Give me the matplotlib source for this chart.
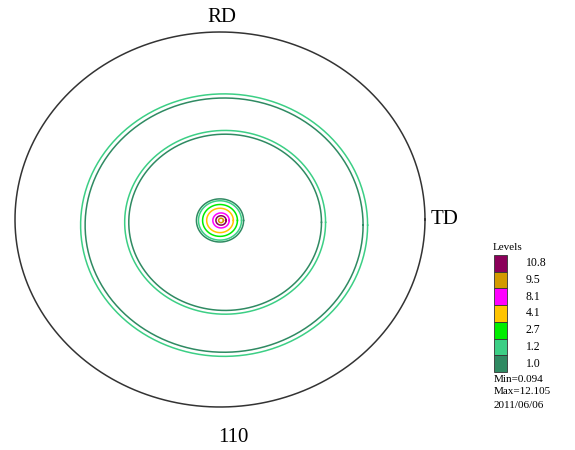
import numpy as np
import matplotlib
matplotlib.use("Agg")
import matplotlib.pyplot as plt

# contour levels and their colours (legend)
levels = [10.8, 9.5, 8.1, 4.1, 2.7, 1.2, 1.0]
level_colors = ["#8b005a", "#d39a00", "#ff00ff", "#ffc400", "#00ee00", "#3ccf85", "#2f8a62"]

# rings: radius (unit = pole-figure radius), centre, level
ring_r = [0.700, 0.678, 0.490, 0.470, 0.115, 0.105, 0.085, 0.065, 0.040, 0.025, 0.012]
ring_cx = [0.020, 0.020, 0.025, 0.025, 0.000, 0.000, 0.000, 0.000, 0.005, 0.005, 0.005]
ring_cy = [-0.030, -0.030, -0.015, -0.015, -0.005, -0.005, -0.005, -0.005, -0.005, -0.005, -0.005]
ring_level = [1.2, 1.0, 1.2, 1.0, 1.0, 1.2, 2.7, 4.1, 8.1, 10.8, 9.5]

min_val, max_val = 0.094, 12.105
date_str = "2011/06/06"

plt.rcParams['font.family'] = ['Liberation Serif', 'DejaVu Serif']

fig = plt.figure(figsize=(5.75, 4.5), dpi=100)
ax = fig.add_axes([15 / 575, 43 / 450, 410 / 575, 375 / 450])
ax.set_xlim(-1, 1)
ax.set_ylim(-1, 1)
ax.axis('off')

t = np.linspace(0, 2 * np.pi, 400)
ax.plot(np.cos(t), np.sin(t), color="#333333", lw=1.1, clip_on=False)

col_of = dict(zip(levels, level_colors))
for r, cx, cy, lev in zip(ring_r, ring_cx, ring_cy, ring_level):
    ax.plot(cx + r * np.cos(t), cy + r * np.sin(t), color=col_of[lev], lw=1.1)

fig.text(222 / 575, 1 - 17 / 450, "RD", ha="center", va="center", fontsize=15)
fig.text(431 / 575, 1 - 219 / 450, "TD", ha="left", va="center", fontsize=15)
fig.text(233 / 575, 1 - 437 / 450, "110", ha="center", va="center", fontsize=15)

# legend
fig.text(493 / 575, 1 - 248 / 450, "Levels", ha="left", va="center", fontsize=8)
box_h = 16.7
for i, (lev, c) in enumerate(zip(levels, level_colors)):
    y_top = 255 + i * box_h
    fig.patches.append(plt.Rectangle((494 / 575, 1 - (y_top + box_h) / 450), 13 / 575, box_h / 450,
                                     transform=fig.transFigure, facecolor=c, edgecolor="#333333", lw=0.6))
    fig.text(526 / 575, 1 - (y_top + box_h / 2) / 450, f"{lev:.1f}", ha="left", va="center", fontsize=8.5)
fig.text(494 / 575, 1 - 379 / 450, f"Min={min_val}", ha="left", va="center", fontsize=8)
fig.text(494 / 575, 1 - 392 / 450, f"Max={max_val}", ha="left", va="center", fontsize=8)
fig.text(494 / 575, 1 - 405 / 450, date_str, ha="left", va="center", fontsize=8)

fig.savefig("out.png", dpi=100)
